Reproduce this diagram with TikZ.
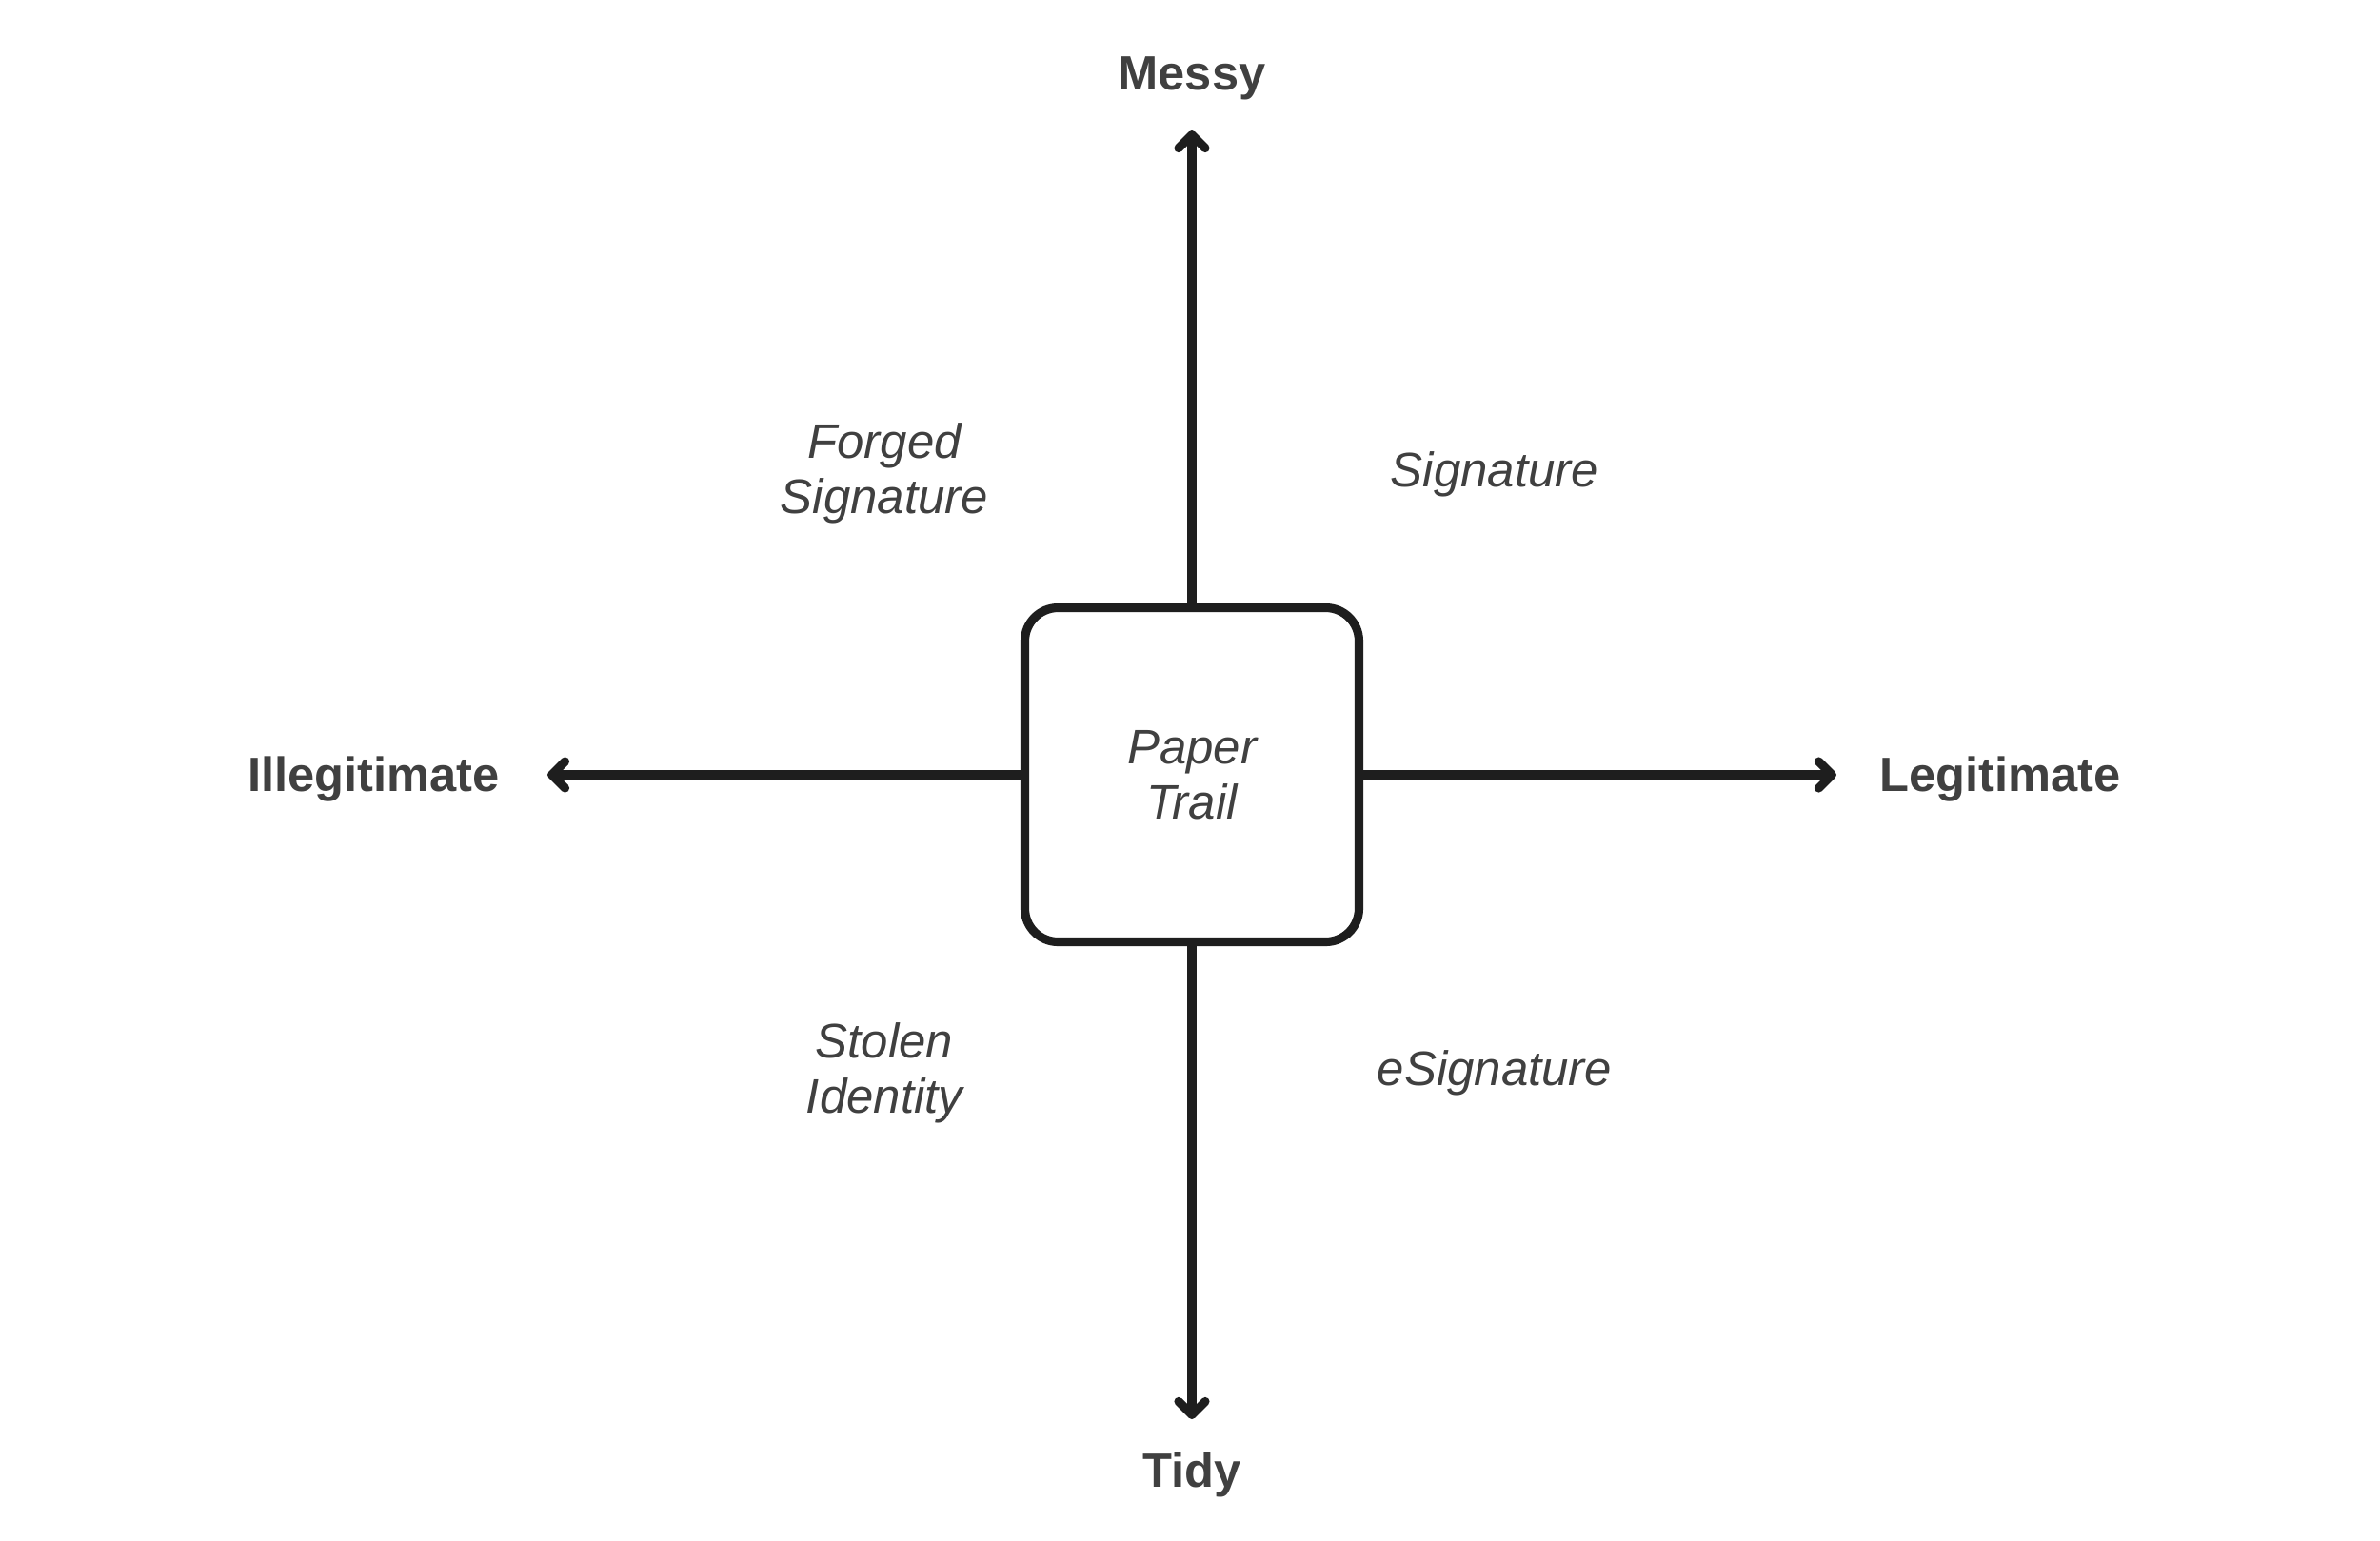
\documentclass[tikz,border=0pt]{standalone}
\usepackage{fontspec}
\setmainfont{Liberation Sans}
\usetikzlibrary{arrows.meta,positioning}

\definecolor{ink}{HTML}{1E1E1E}
\definecolor{txt}{HTML}{404040}

\begin{document}
\begin{tikzpicture}[
  hub/.style={rectangle, rounded corners=3.5mm, draw=ink, line width=2.6pt, fill=white,
              minimum width=3.51cm, minimum height=3.51cm, align=center,
              font=\fontsize{14.5}{16.5}\selectfont\itshape, text=txt},
  ar/.style={-{Straight Barb[length=1.4mm, width=2.8mm, round]}, line width=2.6pt, draw=ink},
  pole/.style={font=\fontsize{14.4}{17}\selectfont\bfseries, text=txt},
  quad/.style={font=\fontsize{14.5}{16.5}\selectfont\itshape, text=txt, align=center}
]
\useasboundingbox (-12.52,-8.04) rectangle (12.48,8.14);

% hub
\node[hub] (pt) at (0,0) {Paper\\Trail};

% axis ends
\coordinate (up) at (0,6.77);
\coordinate (dn) at (0,-6.77);
\coordinate (lt) at (-6.77,0);
\coordinate (rt) at (6.77,0);
\draw[ar] (pt.north) -- (up);
\draw[ar] (pt.south) -- (dn);
\draw[ar] (pt.west)  -- (lt);
\draw[ar] (pt.east)  -- (rt);

% poles
\node[pole, above=0.2cm of up] (messy) {Messy};
\node[pole, below=0.22cm of dn] (tidy) {Tidy};
\node[pole, left=0.38cm of lt, yshift=-0.05cm] (illeg) {Illegitimate};
\node[pole, right=0.33cm of rt, yshift=-0.05cm] (legit) {Legitimate};

% quadrants
\node[quad] (forged) at (-3.23, 3.17) {Forged\\Signature};
\node[quad] (sig)    at ( 3.18, 3.16) {Signature};
\node[quad] (stolen) at (-3.23,-3.13) {Stolen\\Identity};
\node[quad] (esig)   at ( 3.18,-3.13) {eSignature};
\end{tikzpicture}
\end{document}
